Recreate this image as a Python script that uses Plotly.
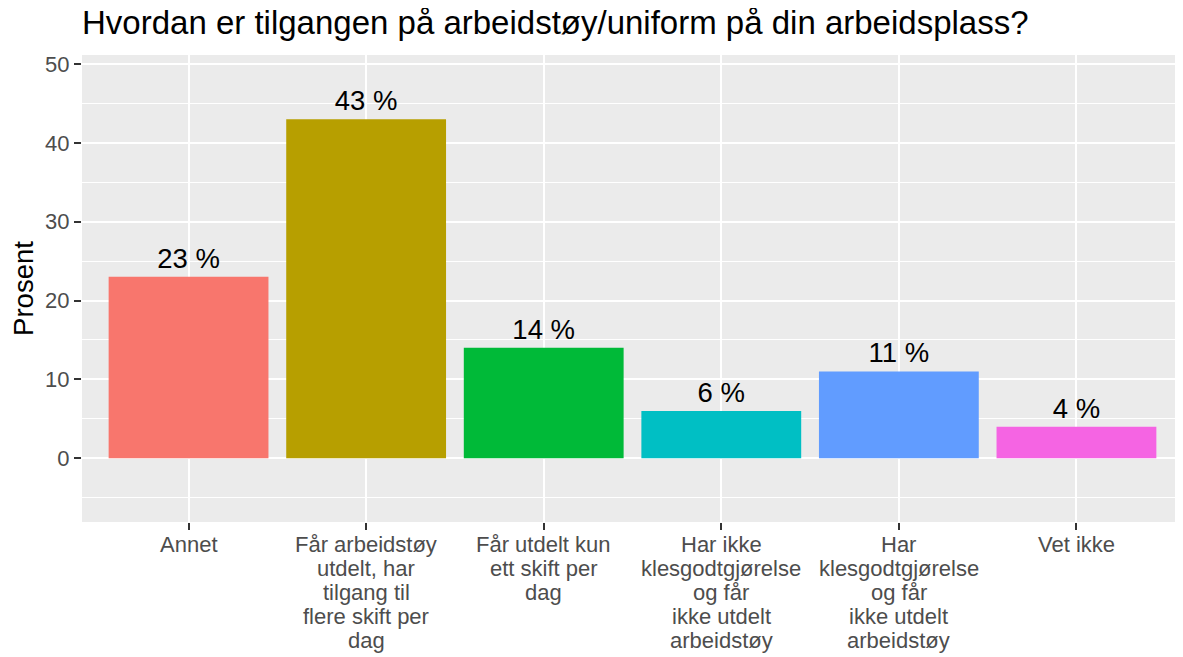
import plotly.graph_objects as go

# ---- data ----
categories = [
    "Annet",
    "Får arbeidstøy utdelt, har tilgang til flere skift per dag",
    "Får utdelt kun ett skift per dag",
    "Har ikke klesgodtgjørelse og får ikke utdelt arbeidstøy",
    "Har klesgodtgjørelse og får ikke utdelt arbeidstøy",
    "Vet ikke",
]
label_lines = [
    ["Annet"],
    ["Får arbeidstøy", "utdelt, har", "tilgang til", "flere skift per", "dag"],
    ["Får utdelt kun", "ett skift per", "dag"],
    ["Har ikke", "klesgodtgjørelse", "og får", "ikke utdelt", "arbeidstøy"],
    ["Har", "klesgodtgjørelse", "og får", "ikke utdelt", "arbeidstøy"],
    ["Vet ikke"],
]
values = [23, 43, 14, 6, 11, 4]
bar_colors = ["#F8766D", "#B79F00", "#00BA38", "#00BFC4", "#619CFF", "#F564E3"]
y_ticks = [0, 10, 20, 30, 40, 50]
title_text = "Hvordan er tilgangen på arbeidstøy/uniform på din arbeidsplass?"
y_title = "Prosent"

FONT = "Liberation Sans, Arial, Helvetica, sans-serif"

# The page body has a default 8px margin; size the figure to fit the window.
PAGE_W, PAGE_H, BODY = 1183, 657, 8
W, H = PAGE_W - BODY, PAGE_H - BODY

fig = go.Figure()
fig.add_trace(go.Bar(
    x=categories,
    y=values,
    width=0.9,
    marker=dict(color=bar_colors, line=dict(width=0)),
    text=[f"{v} %" for v in values],
    textposition="outside",
    outsidetextfont=dict(family=FONT, size=27.5, color="black"),
    cliponaxis=False,
    showlegend=False,
    hoverinfo="x+y",
))

annotations = []
for cat, lines in zip(categories, label_lines):
    for i, line in enumerate(lines):
        annotations.append(dict(
            x=cat, xref="x", y=0, yref="paper",
            text=line, showarrow=False,
            xanchor="center", yanchor="middle",
            yshift=-(22.0 + 24.2 * i),
            font=dict(family=FONT, size=22, color="#4D4D4D"),
        ))

top = 55 - BODY
bottom_px = 521.7 - BODY
fig.update_layout(
    width=W, height=H,
    margin=dict(l=82 - BODY, r=0, t=top, b=H - bottom_px, pad=0),
    paper_bgcolor="white",
    plot_bgcolor="#EBEBEB",
    font=dict(family=FONT, color="black"),
    title=dict(
        text=title_text,
        x=(82 - BODY) / W, xref="container", xanchor="left",
        y=1 - (22 - BODY) / H, yref="container", yanchor="middle",
        font=dict(family=FONT, size=33, color="black"),
    ),
    bargap=0.1,
    annotations=annotations,
    xaxis=dict(
        type="category",
        range=[-0.6, 5.6],
        showgrid=True, gridcolor="white", gridwidth=2.3,
        showticklabels=False,
        ticks="outside", ticklen=7, tickwidth=2, tickcolor="#333333",
        showline=False, zeroline=False, automargin=False,
    ),
    yaxis=dict(
        range=[-8.09, 51.14],
        tickvals=y_ticks,
        ticktext=[str(t) for t in y_ticks],
        showgrid=True, gridcolor="white", gridwidth=2.3,
        minor=dict(dtick=5, tick0=-5, showgrid=True, gridcolor="white", gridwidth=1.2, ticks=""),
        ticks="outside", ticklen=7, tickwidth=2, tickcolor="#333333",
        tickfont=dict(family=FONT, size=22, color="#4D4D4D"),
        showline=False, zeroline=False, automargin=False,
        title=dict(text=y_title, font=dict(family=FONT, size=27.5, color="black"), standoff=8),
    ),
)

fig.write_html("out.html")
